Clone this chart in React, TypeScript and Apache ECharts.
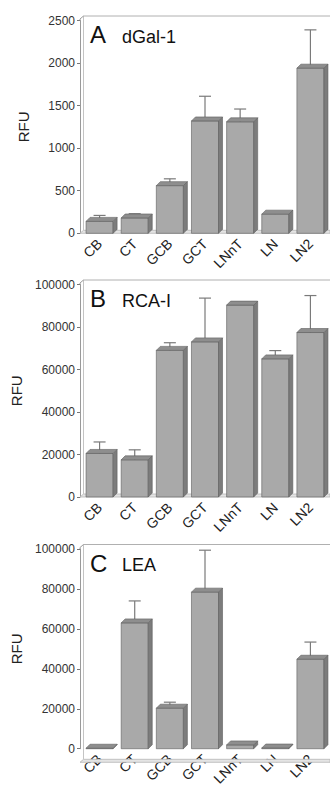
import React, { useEffect, useRef } from "react";
import * as echarts from "echarts";

// ---- data ----
const categories = ["CB", "CT", "GCB", "GCT", "LNnT", "LN", "LN2"];
const dGal1 = [140, 180, 560, 1320, 1310, 225, 1940];
const dGal1Sd = [70, 50, 80, 290, 150, 25, 450];
const rca1 = [20500, 17500, 69000, 73000, 90300, 65000, 77400];
const rca1Sd = [5400, 4700, 3600, 20600, 1500, 3900, 17400];
const lea = [250, 63000, 20300, 78400, 1900, 350, 44800];
const leaSd = [0, 11000, 3000, 21000, 0, 0, 8600];

const panelLetters = ["A", "B", "C"];
const panelNames = ["dGal-1", "RCA-I", "LEA"];
const yMax = [2500, 100000, 100000];
const yStep = [500, 20000, 20000];
const seriesValues = [dGal1, rca1, lea];
const seriesSd = [dGal1Sd, rca1Sd, leaSd];

// ---- layout ----
const GRID_LEFT = 82;
const GRID_WIDTH = 246;
const AXIS_X = 80;
const PANEL_TOPS = [20.5, 284.5, 549];
const PANEL_BOTTOMS = [233.3, 497, 762.3];
const D = 4; // 3D depth

const FRONT = "#a9a9a9";
const SIDE = "#7c7c7c";
const TOP = "#8e8e8e";
const EDGE = "#5e5e5e";
const FONT = "'Liberation Sans', Arial, Helvetica, sans-serif";

function renderBar3D(params: any, api: any) {
  const idx = api.value(0);
  const v = api.value(1);
  const top = api.coord([idx, v]);
  const base = api.coord([idx, 0]);
  const band = api.size([1, 0])[0];
  const w = band * 0.77;
  const l = top[0] - w / 2;
  const r = top[0] + w / 2;
  const yT = top[1];
  const yB = base[1];
  return {
    type: "group",
    children: [
      {
        type: "rect",
        shape: { x: l, y: yT, width: w, height: yB - yT },
        style: { fill: FRONT, stroke: EDGE, lineWidth: 0.6 },
      },
      {
        type: "polygon",
        shape: { points: [[r, yT], [r + D, yT - D], [r + D, yB - D], [r, yB]] },
        style: { fill: SIDE, stroke: EDGE, lineWidth: 0.6 },
      },
      {
        type: "polygon",
        shape: { points: [[l, yT], [l + D, yT - D], [r + D, yT - D], [r, yT]] },
        style: { fill: TOP, stroke: EDGE, lineWidth: 0.6 },
      },
    ],
  };
}

function renderErr(params: any, api: any) {
  const idx = api.value(0);
  const v = api.value(1);
  const sd = api.value(2);
  if (!sd) return { type: "group", children: [] };
  const p0 = api.coord([idx, v]);
  const p1 = api.coord([idx, v + sd]);
  const cap = 6;
  return {
    type: "group",
    children: [
      {
        type: "line",
        shape: { x1: p0[0], y1: p0[1], x2: p1[0], y2: p1[1] },
        style: { stroke: "#7a7a7a", lineWidth: 1.2 },
      },
      {
        type: "line",
        shape: { x1: p1[0] - cap, y1: p1[1], x2: p1[0] + cap, y2: p1[1] },
        style: { stroke: "#7a7a7a", lineWidth: 1.2 },
      },
    ],
  };
}

export default function App() {
  const ref = useRef<HTMLDivElement>(null);
  useEffect(() => {
    if (!ref.current) return;
    const chart = echarts.init(ref.current, null, { renderer: "svg" });

    const grids: any[] = [];
    const xAxes: any[] = [];
    const yAxes: any[] = [];
    const series: any[] = [];
    const graphics: any[] = [];

    for (let p = 0; p < 3; p++) {
      const top = PANEL_TOPS[p];
      const bottom = PANEL_BOTTOMS[p];
      grids.push({ left: GRID_LEFT, width: GRID_WIDTH, top, height: bottom - top });
      xAxes.push({
        type: "category",
        gridIndex: p,
        data: categories,
        axisLine: { show: false },
        axisTick: { show: false },
        axisLabel: {
          rotate: 45,
          fontSize: 14,
          color: "#222",
          margin: 8,
          interval: 0,
          fontFamily: FONT,
          hideOverlap: false,
        },
      });
      yAxes.push({
        type: "value",
        gridIndex: p,
        min: 0,
        max: yMax[p],
        interval: yStep[p],
        offset: GRID_LEFT - AXIS_X,
        name: "RFU",
        nameLocation: "middle",
        nameGap: 49,
        nameTextStyle: { fontSize: 15, color: "#222", fontFamily: FONT },
        splitLine: { show: false },
        axisLine: { show: true, lineStyle: { color: "#9a9a9a", width: 1 } },
        axisTick: { show: true, length: 3, lineStyle: { color: "#777" } },
        axisLabel: {
          fontSize: 12,
          color: "#333",
          margin: 5,
          fontFamily: FONT,
          formatter: (val: number) => String(val),
        },
      });
      const data = categories.map((c, i) => [i, seriesValues[p][i], seriesSd[p][i]]);
      series.push({
        type: "custom",
        xAxisIndex: p,
        yAxisIndex: p,
        renderItem: renderErr,
        data,
        z: 2,
        clip: false,
      });
      series.push({
        type: "custom",
        xAxisIndex: p,
        yAxisIndex: p,
        renderItem: renderBar3D,
        data,
        z: 3,
        clip: false,
      });

      // frame: back wall, top edge, floor
      const wallX = AXIS_X + 3.5;
      graphics.push(
        {
          type: "polygon",
          shape: { points: [[AXIS_X, bottom], [330, bottom], [330, bottom - 3], [wallX, bottom - 3]] },
          style: { fill: "#e4e4e4", stroke: "#b5b5b5", lineWidth: 0.8 },
          z: 1,
        },
        {
          type: "line",
          shape: { x1: wallX, y1: top - 4.5, x2: wallX, y2: bottom - 3 },
          style: { stroke: "#c4c4c4", lineWidth: 1 },
          z: 1,
        },
        {
          type: "line",
          shape: { x1: wallX, y1: top - 4.5, x2: 330, y2: top - 4.5 },
          style: { stroke: "#b0b0b0", lineWidth: 1 },
          z: 1,
        },
        {
          type: "polyline",
          shape: { points: [[AXIS_X, top], [AXIS_X, top - 1.5], [wallX, top - 4.5]] },
          style: { stroke: "#9a9a9a", lineWidth: 1, fill: "none" },
          z: 1,
        },
        {
          type: "text",
          x: 90,
          y: top + 22.5 - 0.35 * 24,
          style: {
            text: panelLetters[p],
            font: `24px ${FONT}`,
            fill: "#111",
            textAlign: "left",
            textVerticalAlign: "middle",
          },
          z: 5,
        },
        {
          type: "text",
          x: 122,
          y: top + 22.5 - 0.35 * 18,
          style: {
            text: panelNames[p],
            font: `18px ${FONT}`,
            fill: "#111",
            textAlign: "left",
            textVerticalAlign: "middle",
          },
          z: 5,
        }
      );
    }

    chart.setOption({
      animation: false,
      textStyle: { fontFamily: FONT },
      grid: grids,
      xAxis: xAxes,
      yAxis: yAxes,
      series,
      graphic: graphics,
    });
    return () => chart.dispose();
  }, []);
  return (
    <div
      ref={ref}
      style={{ position: "absolute", left: 0, top: 0, width: 330, height: 788, background: "#fff" }}
    />
  );
}
